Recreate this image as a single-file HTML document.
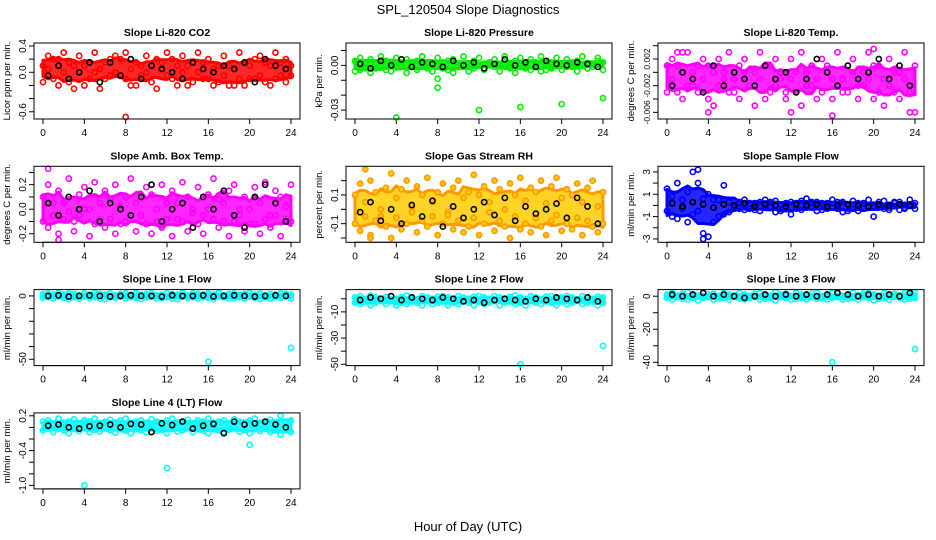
<!DOCTYPE html>
<html><head><meta charset="utf-8">
<style>
html,body{margin:0;padding:0;background:#fff;}
svg{display:block;font-family:"Liberation Sans",sans-serif;}
</style></head>
<body>
<svg id="chart" width="936" height="540" viewBox="0 0 936 540" xmlns="http://www.w3.org/2000/svg">
<text x="468" y="14" text-anchor="middle" font-size="13">SPL_120504  Slope Diagnostics</text>
<text x="468" y="531" text-anchor="middle" font-size="13">Hour of Day (UTC)</text>
</svg>
<script>
const xTicks = [0,4,8,12,16,20,24];

const co2Hi = [.1,.25,-.1,.2,.3,-.15,.1,.25,-.2,.15,.3,.05,-.1,.2,.25,-.05,.3,-.2,.15,.1,.25,-.15,.2,.05,.3,-.1,.1,.25,-.2,.15,.3,-.1,.2,.05,-.15,.25,.1,-.2,.3,.15,-.1,.2,.25,-.15,.1,.3,-.05,.2,.1];
const co2Lo = [-.15,.05,.2,-.2,0,.15,-.25,0,.1,-.1,0,-.25,.15,-.05,0,.2,-.1,.05,-.2,-.05,0,.1,-.25,.15,-.05,.2,-.2,0,.1,-.15,0,.15,-.1,-.2,.1,-.05,-.2,.05,-.1,-.2,.1,-.1,-.05,.15,-.2,-.1,.15,-.15,-.05];
const co2Mean = [-.05,.1,-.1,0,.15,-.15,.15,-.05,.2,-.1,.1,.05,0,-.1,.15,.05,0,.1,.05,.15,-.15,.2,.1,.05];
const co2OutX = [8]; const co2OutY = [-.68];

const presHi = [3,5,-2,4,1,6,-3,2,5,0,4,-1,3,6,-2,1,5,2,-3,4,0,6,-1,3,5,-2,2,4,0,6,-1,3,5,-2,4,1,6,-3,2,5,0,4,-1,3,6,-2,1,5,2];
const presLo = [-4,-1,2,-5,-2,0,3,-4,-1,2,-5,1,-3,-1,2,-4,0,-2,3,-5,-1,1,-4,-2,0,-3,2,-1,-4,1,-2,-5,0,-1,-3,2,-4,0,-2,1,-3,-1,2,-4,0,-2,-1,3,-3];
const presMean = [1,-2,3,0,4,-1,2,1,-1,3,0,2,-2,1,4,0,2,-1,3,1,0,2,1,-1];
const presOutX = [0.5,4,8,8,12,16,20,24]; const presOutY = [-3,-35,-15,-9,-30,-28,-26,-22];

const tempHi = [1,2,-3,0,3,-2,1,2,-4,0,2,-1,3,-3,1,2,-2,0,3,-4,1,2,-1,-3,2,0,3,-2,1,-4,2,0,-1,3,-3,1,2,-2,0,3,-4,1,-1,2,-3,0,3,-2,1];
const tempLo = [-3,-1,1,-4,-2,0,-3,-1,1,-5,-2,0,-3,-1,-4,0,-2,-5,-1,1,-3,-2,0,-4,-1,-3,-5,0,-2,-1,-3,1,-4,-2,-1,-3,0,-4,-2,-1,1,-3,-5,-2,0,-4,-1,-3,-6];
const tempMean = [-2,0,-1,-3,1,-2,0,-1,-2,1,-1,0,-3,-1,2,0,-2,1,-1,0,2,-1,1,-2];
const tempOutX = [1,1.5,4,12,16,20,23.5]; const tempOutY = [3,3,-6,-6,-6.5,3.5,-6];

const ambHi = [10,20,-5,15,5,25,-10,12,18,0,22,-8,15,8,20,-12,10,25,5,-5,18,12,-10,20,5,15,-8,22,10,0,18,-5,12,25,8,-10,15,20,0,10,-12,18,5,22,-5,15,10,-8,20];
const ambLo = [-10,-15,5,-20,-8,-2,-18,-5,0,-22,-12,5,-15,-8,-20,2,-10,-5,-18,10,-12,-20,0,-15,-8,-22,5,-10,-18,-3,-12,-20,0,-8,-15,5,-22,-10,-5,-18,0,-12,-20,-8,-15,-5,-22,2,-10];
const ambMean = [5,-5,10,0,15,-10,5,0,-5,10,20,-10,0,5,-15,10,0,15,-5,-15,10,20,5,-10];
const ambOutX = [0.5,1.5]; const ambOutY = [33,-25];

const rhHi = [10,18,5,20,12,-5,15,25,8,14,20,2,16,10,22,5,12,18,-2,15,20,8,12,24,10,16,5,20,14,0,18,10,22,6,15,12,20,4,16,22,8,14,10,18,5,15,20,2,12];
const rhLo = [-10,-15,-5,-18,-8,0,-12,-20,-6,-14,-10,-2,-16,-8,-12,-5,-18,-10,-4,-14,-8,-16,-12,-6,-18,-10,-2,-15,-8,-12,-20,-5,-14,-10,-16,-6,-12,-18,-8,-4,-15,-10,-14,-6,-18,-8,-12,-16,-10];
const rhMean = [-2,5,-8,0,-10,3,-5,6,-12,2,-6,0,5,-4,8,-8,2,-3,0,4,-6,8,2,-10];
const rhOutX = [1,1.5]; const rhOutY = [28,-20];

const sampHi = [1.5,-1,2,.5,-1.5,3,2,-2.5,1,.5,-1,1.8,.3,.4,-.3,.5,.2,-.4,.3,.5,-.2,.4,-.5,.2,.3,-.3,.4,.6,-.2,.3,-.4,.2,.5,-.3,.3,-.5,.4,.2,-.3,.5,-.2,.3,.4,-.4,.2,.3,-.3,.5,.2];
const sampLo = [-.5,.8,-1.2,-.3,1.2,-.8,-.5,.6,-2.8,-1.5,.5,-.8,-.6,-.2,.3,-.4,-.3,.2,-.5,-.2,.3,-.6,.1,-.3,-.8,.2,-.4,-.2,.3,-.5,.2,-.3,-.2,.3,-.6,.1,-.3,-.5,.2,-.2,-1,.1,-.3,-.2,.3,-.4,-.2,.1,-.3];
const sampMean = [.2,-.1,.3,.1,-.2,.1,0,.2,-.1,.1,0,-.1,.1,0,.1,-.1,0,.1,0,-.1,.1,0,.1,0];
const sampOutX = [3,3.5]; const sampOutY = [3.2,-3];

const l1Hi = [1.5,2,1,2.5,1,2,1.5,.5,2,1,2.5,1.5,1,2,.5,1.5,2,1,2.5,1,1.5,2,.5,1,2,1.5,1,2.5,.5,2,1.5,1,2,1,2.5,.5,1.5,2,1,1.5,2.5,1,2,.5,1.5,1,2,1.5,1];
const l1Lo = [-1.5,-1,-2,-.5,-1.5,-2.5,-1,-2,-.5,-1.5,-1,-2,-2.5,-1,-1.5,-.5,-2,-1,-1.5,-2.5,-1,-.5,-2,-1.5,-1,-2,-2.5,-.5,-1.5,-1,-2,-1,-1.5,-2.5,-.5,-1,-2,-1.5,-1,-2,-.5,-1.5,-2.5,-1,-2,-1,-1.5,-.5,-2];
const l1Mean = [0,.5,-.5,0,.5,0,-.5,0,.5,0,0,-.5,.5,0,0,.5,-.5,0,.5,0,-.5,0,.5,0];
const l1OutX = [16,24]; const l1OutY = [-52,-41];

const l2Hi = [1,2,0,2.5,1,-1,1.5,2,0,1,2.5,1,-.5,2,1,0,1.5,2,1,-1,2,1,0,1.5,2,1,-.5,2,1,0,1.5,2.5,1,0,2,1,-1,1.5,2,0,1,2,1,-.5,2,1,0,1.5,1];
const l2Lo = [-3,-4,-2,-5,-3,-1,-4,-2,-5,-3,-4,-2,-3,-5,-1,-4,-3,-2,-5,-3,-4,-1,-3,-5,-2,-4,-3,-1,-5,-3,-2,-4,-3,-5,-1,-3,-4,-2,-3,-5,-2,-4,-3,-1,-4,-3,-2,-5,-3];
const l2Mean = [-1,1,0,2,-1,1,0,-1,1,0,-2,-1,-3,-1,0,-1,-2,0,-1,1,0,-1,1,-2];
const l2OutX = [16,24]; const l2OutY = [-50,-36];

const l3Hi = [1,2,0,1.5,2.5,1,0,2,1,1.5,0,2,1,.5,2,1,0,1.5,2,1,0,2.5,1,1.5,0,2,1,.5,1.5,2,0,1,2,1.5,0,1,2,.5,1.5,2,1,0,2,1,1.5,.5,2,1,2];
const l3Lo = [-1,-2,-.5,-1.5,-2,-1,-2.5,-1,-.5,-2,-1.5,-1,-2,-.5,-1.5,-2,-1,-.5,-2,-1.5,-1,-2.5,-.5,-1,-2,-1.5,-1,-2,-.5,-1.5,-1,-2,-1,-.5,-2,-1.5,-1,-2,-.5,-1,-2.5,-1.5,-1,-2,-.5,-1,-2,-1.5,-1];
const l3Mean = [1,0,1,2,0,1,0,-1,0,1,0,1,0,1,0,1,2,1,0,1,0,1,0,2];
const l3OutX = [16,24]; const l3OutY = [-40,-32];

const l4Hi = [.1,.12,.05,.15,.08,.1,.14,.06,.12,.1,.15,.05,.1,.13,.08,.12,.15,.06,.1,.12,.08,.14,.1,.05,.12,.15,.08,.1,.13,.06,.12,.1,.15,.08,.1,.12,.05,.14,.1,.08,.12,.15,.06,.1,.13,.08,.2,.1,.12];
const l4Lo = [-.05,-.02,-.08,0,-.05,-.1,-.03,-.06,-.01,-.08,-.04,-.07,0,-.05,-.09,-.02,-.06,-.1,-.03,-.05,-.08,0,-.06,-.04,-.1,-.02,-.07,-.05,0,-.08,-.03,-.06,-.1,-.02,-.05,-.08,-.04,0,-.07,-.05,-.1,-.03,-.06,-.02,-.08,-.05,-.12,-.04,-.08];
const l4Mean = [.03,.05,0,-.02,.02,.03,.05,0,.06,.05,-.08,.07,.04,.1,-.02,.03,.06,-.1,.1,.05,.07,.1,.05,0];
const l4OutX = [4,12,20]; const l4OutY = [-1.0,-.7,-.3];

const panels = [
 {id:'co2',title:'Slope Li-820 CO2',ylab:'Licor ppm per min.',col:'#ff0000',c:0,r:0,dom:[-.71,.445],ticks:[.4,.2,0,-.2,-.4,-.6],tlab:['0.4','','0.0','','','-0.6'],hi:co2Hi,lo:co2Lo,mean:co2Mean,ox:co2OutX,oy:co2OutY},
 {id:'pressure',title:'Slope Li-820 Pressure',ylab:'kPa per min.',col:'#00ee00',c:1,r:0,dom:[-36,15],ticks:[10,0,-10,-20,-30],tlab:['','0.00','','','-0.03'],hi:presHi,lo:presLo,mean:presMean,ox:presOutX,oy:presOutY},
 {id:'temp',title:'Slope Li-820 Temp.',ylab:'degrees C per min.',col:'#ff00ff',c:2,r:0,dom:[-7,4.4],ticks:[4,2,0,-2,-4,-6],tlab:['','0.002','','-0.002','','-0.006'],fs:8.5,hi:tempHi,lo:tempLo,mean:tempMean,ox:tempOutX,oy:tempOutY},
 {id:'amb-box',title:'Slope Amb. Box Temp.',ylab:'degrees C per min.',col:'#ff00ff',c:0,r:1,dom:[-27,35],ticks:[30,20,10,0,-10,-20],tlab:['','0.2','','0.0','','-0.2'],hi:ambHi,lo:ambLo,mean:ambMean,ox:ambOutX,oy:ambOutY},
 {id:'rh',title:'Slope Gas Stream RH',ylab:'percent per min.',col:'#ff9900',fill:'#ffcc00',c:1,r:1,dom:[-23,30],ticks:[20,10,0,-10,-20],tlab:['','0.1','','-0.1',''],hi:rhHi,lo:rhLo,mean:rhMean,ox:rhOutX,oy:rhOutY},
 {id:'sample-flow',title:'Slope Sample Flow',ylab:'ml/min per min.',col:'#0000ff',c:2,r:1,dom:[-3.3,3.5],ticks:[3,2,1,0,-1,-2,-3],tlab:['3','','1','','-1','','-3'],hi:sampHi,lo:sampLo,mean:sampMean,ox:sampOutX,oy:sampOutY},
 {id:'line1',title:'Slope Line 1 Flow',ylab:'ml/min per min.',col:'#00ffff',c:0,r:2,dom:[-55,5],ticks:[0,-10,-20,-30,-40,-50],tlab:['0','','','','','-50'],hi:l1Hi,lo:l1Lo,mean:l1Mean,ox:l1OutX,oy:l1OutY},
 {id:'line2',title:'Slope Line 2 Flow',ylab:'ml/min per min.',col:'#00ffff',c:1,r:2,dom:[-51,7],ticks:[0,-10,-20,-30,-40,-50],tlab:['','-10','','-30','','-50'],hi:l2Hi,lo:l2Lo,mean:l2Mean,ox:l2OutX,oy:l2OutY},
 {id:'line3',title:'Slope Line 3 Flow',ylab:'ml/min per min.',col:'#00ffff',c:2,r:2,dom:[-42,4],ticks:[0,-10,-20,-30,-40],tlab:['0','','-20','','-40'],hi:l3Hi,lo:l3Lo,mean:l3Mean,ox:l3OutX,oy:l3OutY},
 {id:'line4',title:'Slope Line 4 (LT) Flow',ylab:'ml/min per min.',col:'#00ffff',c:0,r:3,dom:[-1.06,.25],ticks:[.2,0,-.2,-.4,-.6,-.8,-1],tlab:['0.2','','','-0.4','','','-1.0'],hi:l4Hi,lo:l4Lo,mean:l4Mean,ox:l4OutX,oy:l4OutY}
];

const NS='http://www.w3.org/2000/svg';
const svg=document.getElementById('chart');
function mk(tag,attrs,parent){const e=document.createElementNS(NS,tag);for(const k in attrs)e.setAttribute(k,attrs[k]);(parent||svg).appendChild(e);return e;}

panels.forEach(p=>{
  const L=34+312*p.c, R=300+312*p.c, T=43+123.3*p.r, B=119+123.3*p.r;
  const g=mk('g',{});
  
  
  const xs=h=>L+9+(R-L-18)*h/24;
  const ys=v=>B-(v-p.dom[0])/(p.dom[1]-p.dom[0])*(B-T);
  const t=mk('text',{x:(L+R)/2,y:T-7,'text-anchor':'middle','font-size':10.5,'font-weight':'bold'},g);
  t.textContent=p.title;
  
  
  const xa=mk('g',{},g);
  
  
  mk('line',{x1:xs(xTicks[0]),x2:xs(xTicks[xTicks.length-1]),y1:B,y2:B,stroke:'#000'},xa);
  xTicks.forEach(v=>{
    mk('line',{x1:xs(v),x2:xs(v),y1:B,y2:B+5,stroke:'#000'},xa);
    const tx=mk('text',{x:xs(v),y:B+17,'text-anchor':'middle','font-size':10},xa);
    tx.textContent=v;
  });
  const ya=mk('g',{},g);
  
  
  mk('line',{x1:L,x2:L,y1:ys(p.ticks[0]),y2:ys(p.ticks[p.ticks.length-1]),stroke:'#000'},ya);
  p.ticks.forEach((v,i)=>{
    const y=ys(v);
    mk('line',{x1:L-5,x2:L,y1:y,y2:y,stroke:'#000'},ya);
    if(p.tlab[i]){
      const ty=mk('text',{x:L-8,y:y,'text-anchor':'middle','font-size':p.fs||10,transform:`rotate(-90 ${L-8} ${y})`},ya);
      ty.textContent=p.tlab[i];
    }
  });
  const yt=mk('text',{x:L-24,y:(T+B)/2,'text-anchor':'middle','font-size':9.5,transform:`rotate(-90 ${L-24} ${(T+B)/2})`},g);
  yt.textContent=p.ylab;
  
  
  // smoothed envelope band (windowed average of per-sample max/min)
  const n=p.hi.length;
  const mx=p.hi.map((v,i)=>Math.max(v,p.lo[i])), mn=p.hi.map((v,i)=>Math.min(v,p.lo[i]));
  const win=(arr,i)=>{let s=0,c=0;for(let j=i-2;j<=i+2;j++){if(j>=0&&j<n){s+=arr[j];c++;}}return s/c;};
  const top=[],bot=[];
  for(let i=0;i<n;i++){const h=i*24/(n-1);top.push(xs(h)+','+ys(win(mx,i)));bot.unshift(xs(h)+','+ys(win(mn,i)));}
  const band=mk('polygon',{points:top.concat(bot).join(' '),fill:p.fill||p.col,'fill-opacity':0.85,stroke:p.col,'stroke-width':3,'stroke-linejoin':'round'},g);
  
  
  const pts=mk('g',{fill:p.fill||'none',stroke:p.col,'stroke-width':1.6},g);
  
  
  [p.hi,p.lo].forEach(arr=>arr.forEach((v,i)=>{
    const hr=i*24/(arr.length-1);
    const c=mk('circle',{cx:xs(hr),cy:ys(v),r:2.6},pts);
    
    
  }));
  p.ox.forEach((h,i)=>{
    const c=mk('circle',{cx:xs(h),cy:ys(p.oy[i]),r:2.6},pts);
    
    
  });
  const mp=mk('g',{fill:'none',stroke:'#000','stroke-width':1.6},g);
  
  
  p.mean.forEach((v,i)=>{
    const c=mk('circle',{cx:xs(i+0.5),cy:ys(v),r:2.6},mp);
    
    
  });
  const box=mk('rect',{x:L,y:T,width:R-L,height:B-T,fill:'none',stroke:'#000'},g);
  
  
});
</script>
</body></html>
